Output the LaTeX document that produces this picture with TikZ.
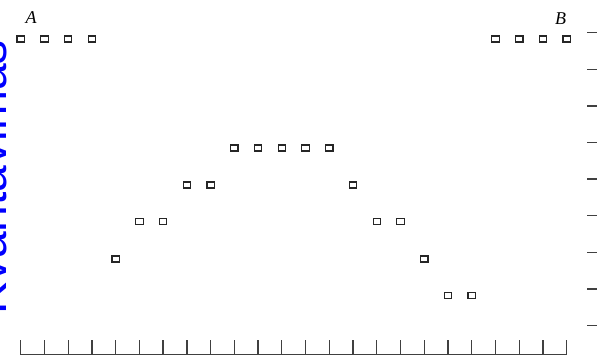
\documentclass[tikz,border=0pt]{standalone}
\usepackage{fontspec}
\newfontfamily\arialf{Liberation Sans}
\newfontfamily\timesf{Liberation Serif}
\begin{document}
\begin{tikzpicture}[x=1pt,y=-1pt,
  sq/.style={draw=black!85,line width=1.2pt,minimum width=7.4pt,minimum height=6pt,inner sep=0pt,outer sep=0pt},
  tickline/.style={draw=black!75,line width=1.3pt},
  lbl/.style={font=\timesf\itshape\fontsize{18}{18}\selectfont,inner sep=0pt},
  titletext/.style={text=blue,font=\arialf\fontsize{48}{48}\selectfont,inner sep=0pt}]
\useasboundingbox (0,0) rectangle (597,356);
\clip (0,0) rectangle (597,356);
\fill[white] (0,0) rectangle (597,356);
% rotated title
\node[titletext,rotate=90,anchor=base west] (title) at (6.5,315) {Kvantavimas};
% bottom axis
\draw[tickline] (20.7,354.5) -- (566.7,354.5);
\foreach \i in {0,...,23}
  \draw[tickline] ({20.7+23.74*\i},340) -- ({20.7+23.74*\i},354.5);
% right ticks
\foreach \k in {0,...,8}
  \draw[tickline] (587,{32.7+36.6*\k}) -- (597,{32.7+36.6*\k});
% squares
\foreach \i/\y in {0/39,1/39,2/39,3/39,4/259,5/221.7,6/221.7,7/185,8/185,
  9/148,10/148,11/148,12/148,13/148,14/185,15/221.7,16/221.7,17/259,
  18/295.5,19/295.5,20/39,21/39,22/39,23/39}
  \node[sq] (sq\i) at ({20.7+23.74*\i},\y) {};
% labels
\node[lbl] (labA) at (31,18) {A};
\node[lbl] (labB) at (560.5,18.3) {B};
\end{tikzpicture}
\end{document}
